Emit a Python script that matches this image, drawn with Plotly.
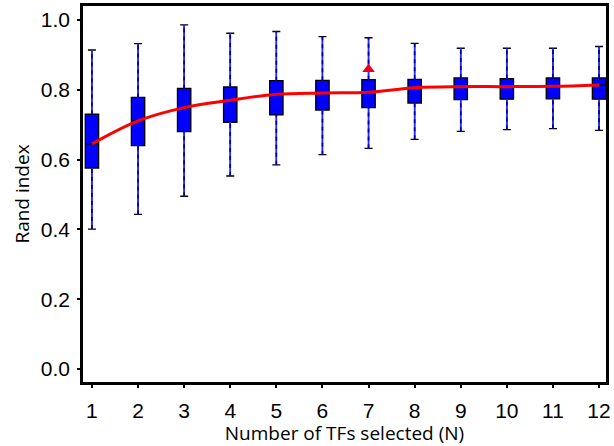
import plotly.graph_objects as go

N = [1, 2, 3, 4, 5, 6, 7, 8, 9, 10, 11, 12]
upper_whisker = [0.914, 0.932, 0.986, 0.962, 0.967, 0.952, 0.949, 0.933, 0.919, 0.919, 0.919, 0.924]
q3 = [0.730, 0.778, 0.804, 0.808, 0.826, 0.827, 0.829, 0.830, 0.834, 0.832, 0.834, 0.834]
median = [0.645, 0.711, 0.749, 0.770, 0.787, 0.791, 0.793, 0.806, 0.809, 0.809, 0.810, 0.814]
q1 = [0.576, 0.640, 0.680, 0.707, 0.728, 0.742, 0.749, 0.762, 0.772, 0.773, 0.774, 0.773]
lower_whisker = [0.401, 0.443, 0.495, 0.553, 0.585, 0.614, 0.632, 0.658, 0.681, 0.686, 0.689, 0.684]
outlier_x = [7]
outlier_y = [0.859]
y_ticks = [0.0, 0.2, 0.4, 0.6, 0.8, 1.0]

fig = go.Figure()

fig.add_trace(go.Box(
    x=N, q1=q1, median=median, q3=q3,
    lowerfence=lower_whisker, upperfence=upper_whisker,
    width=0.29, whiskerwidth=0.6,
    fillcolor="#0000ff", line=dict(color="black", width=1.3),
    boxpoints=False, hoverinfo="skip", showlegend=False,
))

wx, wy = [], []
for n, lw, a, b, uw in zip(N, lower_whisker, q1, q3, upper_whisker):
    wx += [n, n, None, n, n, None]
    wy += [lw, a, None, b, uw, None]

fig.add_trace(go.Scatter(x=wx, y=wy, mode="lines",
                         line=dict(color="#2a2aff", width=1.6),
                         showlegend=False, hoverinfo="skip"))
fig.add_trace(go.Scatter(x=wx, y=wy, mode="lines",
                         line=dict(color="#00009a", width=1.6, dash="4px,4px"),
                         showlegend=False, hoverinfo="skip"))

fig.add_trace(go.Scatter(x=N, y=median, mode="lines",
                         line=dict(color="#ff0000", width=3, shape="spline", smoothing=1.0),
                         showlegend=False, hoverinfo="skip"))

fig.add_trace(go.Scatter(x=outlier_x, y=outlier_y, mode="markers",
                         marker=dict(symbol="triangle-up", color="#e8001a", size=11),
                         showlegend=False, hoverinfo="skip"))

tick_font = dict(family="Liberation Sans", size=21, color="black")
title_font = dict(family="Open Sans", size=19, color="black")

fig.update_layout(
    width=614, height=446,
    margin=dict(l=83, r=3, t=5, b=64),
    plot_bgcolor="white", paper_bgcolor="white",
    font=dict(family="Liberation Sans", color="black", size=21),
)
fig.update_xaxes(
    range=[0.806, 12.151], tickmode="array", tickvals=N, ticktext=[str(n) for n in N],
    showgrid=False, zeroline=False, showline=True, linecolor="black", linewidth=2.5,
    mirror=True, ticks="outside", ticklen=3, tickwidth=2, tickcolor="black",
    tickfont=tick_font, ticklabelstandoff=5,
    title=dict(text="Number of TFs selected (N)", font=title_font, standoff=0),
)
fig.update_yaxes(
    range=[-0.037, 1.04], tickmode="array", tickvals=y_ticks,
    ticktext=[f"{v:.1f}" for v in y_ticks],
    showgrid=False, zeroline=False, showline=True, linecolor="black", linewidth=2.5,
    mirror=True, ticks="outside", ticklen=3, tickwidth=2, tickcolor="black",
    tickfont=tick_font, ticklabelstandoff=3,
    title=dict(text="Rand index", font=title_font, standoff=7),
)

fig.write_html("out.html")
